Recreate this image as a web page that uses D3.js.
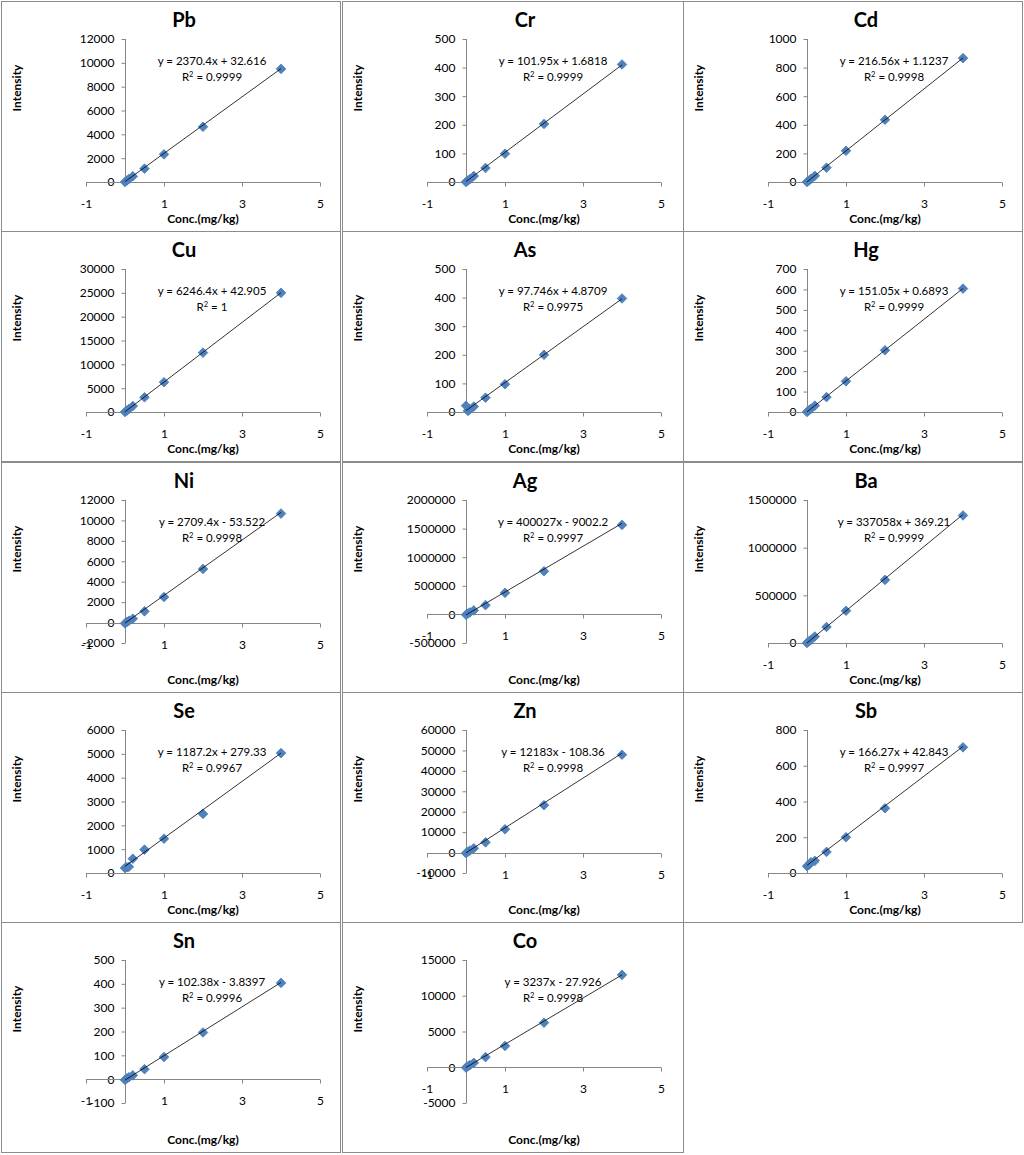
<!DOCTYPE html>
<html>
<head>
<meta charset="utf-8">
<script src="https://cdn.jsdelivr.net/npm/d3@7"></script>
<style>
  html, body { margin: 0; padding: 0; background: #fff; }
  svg { display: block; }
  text { font-family: Lato, "Open Sans", sans-serif; fill: #000; }
</style>
</head>
<body>
<svg id="chart" width="1024" height="1155"></svg>
<script>
// ---------- data ----------
const elements = ["Pb", "Cr", "Cd", "Cu", "As", "Hg", "Ni", "Ag", "Ba", "Se", "Zn", "Sb", "Sn", "Co"];
const conc = [0, 0.05, 0.1, 0.2, 0.5, 1, 2, 4];

const Pb = [0, 125, 250, 480, 1120, 2320, 4630, 9490];
const Cr = [0, 5, 10, 21, 49, 99, 203, 411];
const Cd = [0, 10, 22, 43, 100, 218, 435, 866];
const Cu = [0, 300, 620, 1250, 3080, 6250, 12450, 25000];
const As = [22, 4, 9, 19, 50, 97, 200, 397];
const Hg = [0, 8, 16, 31, 73, 150, 302, 604];
const Ni = [-80, 60, 180, 380, 1100, 2500, 5250, 10670];
const Ag = [-5000, 15000, 35000, 70000, 162000, 377000, 754000, 1565000];
const Ba = [0, 17000, 34000, 68000, 168000, 338000, 662000, 1338000];
const Se = [210, 240, 260, 600, 980, 1440, 2480, 5030];
const Zn = [-300, 400, 1000, 2100, 5000, 11400, 23200, 47900];
const Sb = [38, 45, 60, 68, 118, 200, 362, 703];
const Sn = [-3, 3, 8, 16, 42, 93, 196, 404];
const Co = [-50, 120, 300, 620, 1420, 2980, 6230, 12920];
const series = [Pb, Cr, Cd, Cu, As, Hg, Ni, Ag, Ba, Se, Zn, Sb, Sn, Co];

const slopes = [2370.4, 101.95, 216.56, 6246.4, 97.746, 151.05, 2709.4, 400027, 337058, 1187.2, 12183, 166.27, 102.38, 3237];
const intercepts = [32.616, 1.6818, 1.1237, 42.905, 4.8709, 0.6893, -53.522, -9002.2, 369.21, 279.33, -108.36, 42.843, -3.8397, -27.926];
const equations = [
  "y = 2370.4x + 32.616", "y = 101.95x + 1.6818", "y = 216.56x + 1.1237",
  "y = 6246.4x + 42.905", "y = 97.746x + 4.8709", "y = 151.05x + 0.6893",
  "y = 2709.4x - 53.522", "y = 400027x - 9002.2", "y = 337058x + 369.21",
  "y = 1187.2x + 279.33", "y = 12183x - 108.36", "y = 166.27x + 42.843",
  "y = 102.38x - 3.8397", "y = 3237x - 27.926"
];
const r2Values = ["0.9999", "0.9999", "0.9998", "1", "0.9975", "0.9999", "0.9998", "0.9997", "0.9999", "0.9967", "0.9998", "0.9997", "0.9996", "0.9998"];

const yMins = [0, 0, 0, 0, 0, 0, -2000, -500000, 0, 0, -10000, 0, -100, -5000];
const yMaxs = [12000, 500, 1000, 30000, 500, 700, 12000, 2000000, 1500000, 6000, 60000, 800, 500, 15000];
const ySteps = [2000, 100, 200, 5000, 100, 100, 2000, 500000, 500000, 1000, 10000, 200, 100, 5000];
const xTicks = [-1, 1, 3, 5];
const xTitle = "Conc.(mg/kg)";
const yTitle = "Intensity";

// ---------- layout ----------
const colX = [1, 342, 683];
const colW = [339, 341, 339];
const rowY = [1, 231, 462, 692, 922];
const rowH = 230;
const plotLeft = 85, plotRight = 319, plotTop = 38, plotBottom = 181;
const axisColor = "#868686";
const markerFill = "#4F81BD";
const markerStroke = "#4A7EBB";

const svg = d3.select("#chart");
const diamond = d3.symbol().type(d3.symbolSquare).size(46);
const fmt = d => String(d);

elements.forEach((name, i) => {
  const col = i % 3, row = Math.floor(i / 3);
  const g = svg.append("g").attr("transform", `translate(${colX[col]},${rowY[row]})`);

  g.append("rect")
    .attr("x", 0.5).attr("y", 0.5)
    .attr("width", colW[col]).attr("height", rowH)
    .attr("fill", "#fff").attr("stroke", "#8c8c8c").attr("stroke-width", 1);

  const x = d3.scaleLinear().domain([-1, 5]).range([plotLeft, plotRight]);
  const y = d3.scaleLinear().domain([yMins[i], yMaxs[i]]).range([plotBottom, plotTop]);
  const yTicks = d3.range(yMins[i], yMaxs[i] + ySteps[i] / 2, ySteps[i]);

  // y axis at x = 0
  const yAxis = d3.axisLeft(y).tickValues(yTicks).tickSize(4).tickPadding(7).tickFormat(fmt);
  const ya = g.append("g").attr("transform", `translate(${Math.round(x(0)) + 0.5},0)`).call(yAxis);
  // x axis at y = 0
  const xAxis = d3.axisBottom(x).tickValues(xTicks).tickSize(4).tickPadding(13).tickFormat(fmt);
  const xa = g.append("g").attr("transform", `translate(0,${Math.round(y(0)) + 0.5})`).call(xAxis);

  [ya, xa].forEach(a => {
    a.select(".domain").attr("stroke", axisColor);
    a.selectAll(".tick line").attr("stroke", axisColor);
    a.selectAll(".tick text").attr("font-size", 12).attr("font-family", "Lato, sans-serif").attr("fill", "#000");
  });
  ya.select(".domain").attr("d", `M0,${plotBottom}V${plotTop}`);
  xa.select(".domain").attr("d", `M${plotLeft},0H${plotRight}`);

  // markers
  g.append("g").selectAll("path")
    .data(conc.map((c, k) => [c, series[i][k]]))
    .join("path")
    .attr("d", diamond)
    .attr("transform", d => `translate(${x(d[0])},${y(d[1])}) rotate(45)`)
    .attr("fill", markerFill)
    .attr("stroke", markerStroke)
    .attr("stroke-width", 0.8);

  // trendline
  const x0 = d3.min(conc), x1 = d3.max(conc);
  g.append("line")
    .attr("x1", x(x0)).attr("y1", y(slopes[i] * x0 + intercepts[i]))
    .attr("x2", x(x1)).attr("y2", y(slopes[i] * x1 + intercepts[i]))
    .attr("stroke", "#000").attr("stroke-width", 0.8);

  // title
  g.append("text")
    .attr("x", 183).attr("y", 26)
    .attr("text-anchor", "middle")
    .attr("font-size", 20).attr("font-weight", "bold")
    .text(name);

  // equation and R²
  g.append("text")
    .attr("x", 211).attr("y", 64)
    .attr("text-anchor", "middle").attr("font-size", 11.5)
    .text(equations[i]);
  const r = g.append("text")
    .attr("x", 211).attr("y", 80)
    .attr("text-anchor", "middle").attr("font-size", 11.5);
  r.append("tspan").text("R");
  r.append("tspan").attr("font-size", 7.5).attr("dy", -4.5).text("2");
  r.append("tspan").attr("dy", 4.5).text(" = " + r2Values[i]);

  // axis titles
  g.append("text")
    .attr("x", 202).attr("y", 222)
    .attr("text-anchor", "middle")
    .attr("font-size", 12).attr("font-weight", "bold")
    .text(xTitle);
  g.append("text")
    .attr("transform", `translate(20,87) rotate(-90)`)
    .attr("text-anchor", "middle")
    .attr("font-size", 12).attr("font-weight", "bold")
    .text(yTitle);
});
</script>
</body>
</html>
